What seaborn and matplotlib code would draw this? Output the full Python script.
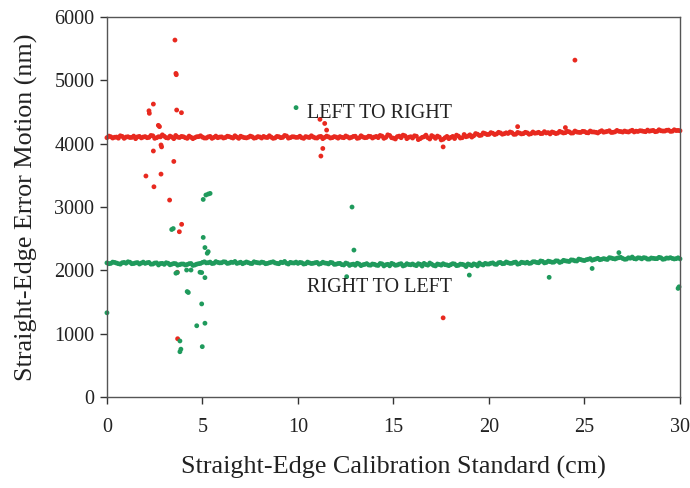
import matplotlib
matplotlib.use("Agg")
import matplotlib.pyplot as plt
import seaborn as sns
import pandas as pd

# ---- data ----
band_x = [0.0, 0.2, 0.4, 0.6, 0.8, 1.0, 1.2, 1.4, 1.6, 1.8,
          2.0, 2.2, 2.4, 2.6, 2.8, 3.0, 3.2, 3.4, 3.6, 3.8,
          4.0, 4.2, 4.4, 4.6, 4.8, 5.0, 5.2, 5.4, 5.6, 5.8,
          6.0, 6.2, 6.4, 6.6, 6.8, 7.0, 7.2, 7.4, 7.6, 7.8,
          8.0, 8.2, 8.4, 8.6, 8.8, 9.0, 9.2, 9.4, 9.6, 9.8,
          10.0, 10.2, 10.4, 10.6, 10.8, 11.0, 11.2, 11.4, 11.6, 11.8,
          12.0, 12.2, 12.4, 12.6, 12.8, 13.0, 13.2, 13.4, 13.6, 13.8,
          14.0, 14.2, 14.4, 14.6, 14.8, 15.0, 15.2, 15.4, 15.6, 15.8,
          16.0, 16.2, 16.4, 16.6, 16.8, 17.0, 17.2, 17.4, 17.6, 17.8,
          18.0, 18.2, 18.4, 18.6, 18.8, 19.0, 19.2, 19.4, 19.6, 19.8,
          20.0, 20.2, 20.4, 20.6, 20.8, 21.0, 21.2, 21.4, 21.6, 21.8,
          22.0, 22.2, 22.4, 22.6, 22.8, 23.0, 23.2, 23.4, 23.6, 23.8,
          24.0, 24.2, 24.4, 24.6, 24.8, 25.0, 25.2, 25.4, 25.6, 25.8,
          26.0, 26.2, 26.4, 26.6, 26.8, 27.0, 27.2, 27.4, 27.6, 27.8,
          28.0, 28.2, 28.4, 28.6, 28.8, 29.0, 29.2, 29.4, 29.6, 29.8,
          30.0,
          0.1, 0.3, 0.5, 0.7, 0.9, 1.1, 1.3, 1.5, 1.7, 1.9,
          2.1, 2.3, 2.5, 2.7, 2.9, 3.1, 3.3, 3.5, 3.7, 3.9,
          4.1, 4.3, 4.5, 4.7, 4.9, 5.1, 5.3, 5.5, 5.7, 5.9,
          6.1, 6.3, 6.5, 6.7, 6.9, 7.1, 7.3, 7.5, 7.7, 7.9,
          8.1, 8.3, 8.5, 8.7, 8.9, 9.1, 9.3, 9.5, 9.7, 9.9,
          10.1, 10.3, 10.5, 10.7, 10.9, 11.1, 11.3, 11.5, 11.7, 11.9,
          12.1, 12.3, 12.5, 12.7, 12.9, 13.1, 13.3, 13.5, 13.7, 13.9,
          14.1, 14.3, 14.5, 14.7, 14.9, 15.1, 15.3, 15.5, 15.7, 15.9,
          16.1, 16.3, 16.5, 16.7, 16.9, 17.1, 17.3, 17.5, 17.7, 17.9,
          18.1, 18.3, 18.5, 18.7, 18.9, 19.1, 19.3, 19.5, 19.7, 19.9,
          20.1, 20.3, 20.5, 20.7, 20.9, 21.1, 21.3, 21.5, 21.7, 21.9,
          22.1, 22.3, 22.5, 22.7, 22.9, 23.1, 23.3, 23.5, 23.7, 23.9,
          24.1, 24.3, 24.5, 24.7, 24.9, 25.1, 25.3, 25.5, 25.7, 25.9,
          26.1, 26.3, 26.5, 26.7, 26.9, 27.1, 27.3, 27.5, 27.7, 27.9,
          28.1, 28.3, 28.5, 28.7, 28.9, 29.1, 29.3, 29.5, 29.7, 29.9]

ltr_band = [4095, 4110, 4102, 4088, 4115, 4105, 4098, 4120, 4108, 4092,
            4112, 4100, 4125, 4095, 4108, 4118, 4090, 4105, 4130, 4098,
            4110, 4085, 4102, 4096, 4112, 4104, 4090, 4115, 4100, 4095,
            4108, 4098, 4112, 4090, 4104, 4118, 4096, 4102, 4110, 4094,
            4106, 4115, 4098, 4104, 4092, 4110, 4100, 4122, 4096, 4108,
            4102, 4094, 4112, 4098, 4106, 4090, 4115, 4100, 4108, 4096,
            4104, 4112, 4095, 4108, 4100, 4118, 4092, 4106, 4098, 4114,
            4105, 4096, 4120, 4100, 4130, 4088, 4112, 4095, 4125, 4102,
            4090, 4118, 4080, 4110, 4095, 4128, 4085, 4105, 4070, 4115,
            4100, 4082, 4120, 4095, 4110, 4140, 4125, 4150, 4135, 4160,
            4148, 4165, 4155, 4170, 4158, 4162, 4175, 4150, 4168, 4160,
            4172, 4158, 4166, 4180, 4162, 4170, 4155, 4175, 4168, 4182,
            4175, 4188, 4170, 4185, 4178, 4192, 4172, 4186, 4180, 4190,
            4182, 4195, 4178, 4188, 4196, 4184, 4190, 4200, 4186, 4194,
            4202, 4190, 4198, 4210, 4195, 4205, 4200, 4215, 4198, 4208,
            4205,
            4120, 4090, 4105, 4125, 4085, 4110, 4100, 4080, 4115, 4105,
            4095, 4130, 4085, 4110, 4140, 4095, 4120, 4080, 4105, 4115,
            4095, 4120, 4080, 4110, 4125, 4090, 4108, 4085, 4120, 4105,
            4090, 4118, 4100, 4125, 4085, 4105, 4092, 4120, 4088, 4112,
            4090, 4102, 4125, 4085, 4115, 4095, 4130, 4088, 4110, 4100,
            4118, 4085, 4105, 4125, 4092, 4110, 4080, 4120, 4090, 4112,
            4088, 4100, 4122, 4090, 4115, 4085, 4125, 4095, 4118, 4090,
            4115, 4130, 4085, 4140, 4095, 4075, 4120, 4135, 4080, 4110,
            4125, 4065, 4100, 4135, 4075, 4110, 4120, 4060, 4095, 4080,
            4115, 4135, 4090, 4145, 4120, 4105, 4160, 4130, 4170, 4145,
            4175, 4145, 4180, 4150, 4172, 4185, 4148, 4178, 4155, 4180,
            4150, 4185, 4170, 4160, 4190, 4175, 4185, 4160, 4195, 4170,
            4195, 4168, 4200, 4180, 4195, 4175, 4200, 4185, 4170, 4205,
            4188, 4205, 4180, 4210, 4192, 4200, 4185, 4212, 4198, 4205,
            4195, 4215, 4205, 4190, 4220, 4200, 4212, 4195, 4220, 4210]

rtl_band = [2118, 2110, 2125, 2105, 2120, 2112, 2128, 2108, 2122, 2115,
            2110, 2125, 2100, 2118, 2108, 2095, 2112, 2098, 2105, 2090,
            2100, 2092, 2108, 2085, 2105, 2125, 2118, 2130, 2112, 2126,
            2120, 2132, 2115, 2125, 2110, 2128, 2118, 2122, 2108, 2126,
            2115, 2124, 2110, 2128, 2118, 2105, 2122, 2112, 2126, 2116,
            2110, 2120, 2105, 2118, 2112, 2125, 2108, 2116, 2102, 2120,
            2098, 2110, 2085, 2105, 2092, 2080, 2100, 2088, 2106, 2082,
            2095, 2078, 2102, 2088, 2072, 2098, 2085, 2105, 2080, 2092,
            2100, 2075, 2095, 2110, 2082, 2098, 2070, 2092, 2105, 2085,
            2090, 2100, 2080, 2095, 2060, 2088, 2102, 2070, 2095, 2110,
            2100, 2118, 2095, 2125, 2108, 2120, 2112, 2130, 2105, 2122,
            2128, 2115, 2135, 2120, 2142, 2125, 2138, 2130, 2148, 2135,
            2150, 2140, 2162, 2148, 2170, 2155, 2175, 2160, 2180, 2168,
            2185, 2172, 2195, 2180, 2200, 2188, 2178, 2192, 2185, 2198,
            2182, 2195, 2178, 2190, 2185, 2198, 2180, 2192, 2188, 2185,
            2182,
            2105, 2130, 2115, 2098, 2125, 2135, 2105, 2118, 2100, 2130,
            2120, 2098, 2115, 2085, 2110, 2120, 2088, 2108, 2082, 2100,
            2085, 2105, 2078, 2098, 2110, 2135, 2120, 2108, 2138, 2118,
            2135, 2110, 2128, 2140, 2118, 2105, 2132, 2110, 2135, 2120,
            2130, 2105, 2120, 2135, 2110, 2128, 2140, 2100, 2118, 2130,
            2125, 2100, 2130, 2108, 2120, 2098, 2128, 2112, 2125, 2095,
            2108, 2090, 2115, 2078, 2098, 2112, 2075, 2095, 2085, 2100,
            2082, 2108, 2070, 2095, 2110, 2080, 2098, 2070, 2105, 2088,
            2085, 2105, 2068, 2092, 2115, 2078, 2100, 2082, 2090, 2075,
            2105, 2075, 2098, 2085, 2100, 2075, 2092, 2115, 2085, 2100,
            2112, 2098, 2120, 2105, 2132, 2110, 2125, 2098, 2128, 2115,
            2110, 2135, 2125, 2148, 2118, 2145, 2128, 2150, 2125, 2158,
            2145, 2165, 2150, 2178, 2160, 2168, 2185, 2170, 2190, 2175,
            2178, 2200, 2185, 2192, 2205, 2175, 2198, 2210, 2180, 2195,
            2200, 2178, 2195, 2185, 2205, 2175, 2195, 2200, 2180, 2198]

ltr_out_x = [3.56, 3.61, 3.63, 2.43, 2.2, 2.22, 3.65, 3.9, 2.69, 2.75,
             2.83, 2.86, 2.43, 3.5, 2.04, 2.83, 2.46, 3.28, 3.91, 3.79,
             3.68, 3.7, 24.5, 17.6, 11.15, 11.4, 11.5, 11.3, 11.2, 21.5,
             17.6, 24.0]
ltr_out_y = [5637, 5110, 5090, 4626, 4520, 4480, 4532, 4490, 4290, 4270,
             3980, 3950, 3885, 3720, 3490, 3520, 3320, 3110, 2727, 2610,
             1970, 920, 5320, 1250, 4385, 4320, 4215, 3925, 3805, 4270,
             3950, 4255]

rtl_out_x = [9.9, 5.04, 5.18, 5.3, 5.4, 3.47, 3.39, 5.04, 5.13, 5.3,
             5.25, 3.61, 3.68, 4.17, 4.4, 4.87, 4.96, 5.13, 4.2, 4.26,
             4.96, 4.7, 5.13, 3.82, 3.87, 3.82, 4.99, 0.0, 12.93, 12.55,
             18.97, 23.15, 25.4, 26.8, 29.9, 29.95, 12.83]
rtl_out_y = [4570, 3120, 3190, 3205, 3215, 2660, 2645, 2520, 2360, 2295,
             2270, 1955, 1965, 2005, 2005, 1970, 1965, 1885, 1665, 1650,
             1470, 1125, 1165, 885, 755, 715, 795, 1330, 2320, 1900,
             1925, 1890, 2030, 2280, 1715, 1740, 3000]

x_ticks = [0, 5, 10, 15, 20, 25, 30]
y_ticks = [0, 1000, 2000, 3000, 4000, 5000, 6000]

# ---- build table ----
df = pd.concat([
    pd.DataFrame({"x": band_x + ltr_out_x, "y": ltr_band + ltr_out_y, "dir": "LTR"}),
    pd.DataFrame({"x": band_x + rtl_out_x, "y": rtl_band + rtl_out_y, "dir": "RTL"}),
], ignore_index=True)

sns.set_style("ticks")
plt.rcParams["font.family"] = ["Liberation Serif", "DejaVu Serif"]

fig = plt.figure(figsize=(6.9, 4.88), dpi=100)
ax = fig.add_axes([0.155, 0.1865, 0.8305, 0.7785])

sns.scatterplot(data=df, x="x", y="y", hue="dir",
                palette={"LTR": "#e8291f", "RTL": "#1f9a5c"},
                s=12, marker="o", linewidth=0, legend=False, ax=ax,
                clip_on=False)

ax.set_xlim(0, 30)
ax.set_ylim(0, 6000)
ax.set_xticks(x_ticks)
ax.set_yticks(y_ticks)
ax.tick_params(axis="both", direction="out", length=5, width=1,
               colors="#333333", labelcolor="#222222", labelsize=14.5, pad=4)
ax.tick_params(axis="x", pad=10)
for sp in ax.spines.values():
    sp.set_visible(True)
    sp.set_color("#555555")
    sp.set_linewidth(1)

ax.set_xlabel("Straight-Edge Calibration Standard (cm)", fontsize=18.8,
              color="#222222", labelpad=14)
ax.set_ylabel("Straight-Edge Error Motion (nm)", fontsize=18.8,
              color="#222222", labelpad=12)

ax.text(10.45, 4470, "LEFT TO RIGHT", fontsize=14.5, color="#222222",
        va="center", ha="left")
ax.text(10.45, 1730, "RIGHT TO LEFT", fontsize=14.5, color="#222222",
        va="center", ha="left")

fig.savefig("out.png", dpi=100)
